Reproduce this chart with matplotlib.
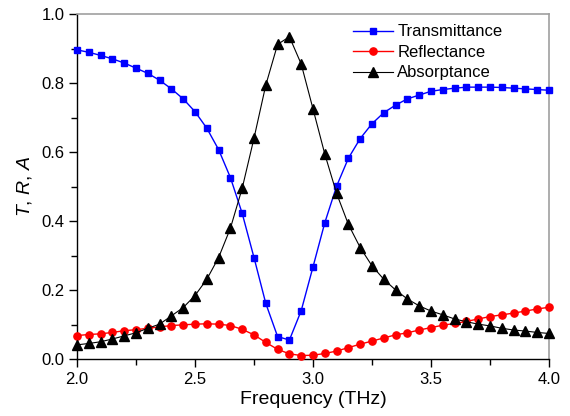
import matplotlib
matplotlib.use("Agg")
import matplotlib.pyplot as plt
import numpy as np

plt.rcParams['font.family'] = ['Liberation Sans', 'DejaVu Sans']
plt.rcParams['mathtext.fontset'] = 'custom'
plt.rcParams['mathtext.rm'] = 'Liberation Sans'
plt.rcParams['mathtext.it'] = 'Liberation Sans:italic'

freq = [2.00, 2.05, 2.10, 2.15, 2.20, 2.25, 2.30, 2.35, 2.40, 2.45,
        2.50, 2.55, 2.60, 2.65, 2.70, 2.75, 2.80, 2.85, 2.90, 2.95,
        3.00, 3.05, 3.10, 3.15, 3.20, 3.25, 3.30, 3.35, 3.40, 3.45,
        3.50, 3.55, 3.60, 3.65, 3.70, 3.75, 3.80, 3.85, 3.90, 3.95, 4.00]

transmittance = [0.896, 0.889, 0.880, 0.870, 0.858, 0.843, 0.828, 0.808, 0.783, 0.754,
                 0.717, 0.669, 0.607, 0.526, 0.422, 0.294, 0.161, 0.065, 0.055, 0.140,
                 0.267, 0.395, 0.501, 0.582, 0.639, 0.682, 0.714, 0.736, 0.754, 0.765,
                 0.776, 0.781, 0.785, 0.788, 0.788, 0.788, 0.787, 0.785, 0.783, 0.781, 0.779]

reflectance = [0.068, 0.071, 0.073, 0.077, 0.082, 0.085, 0.089, 0.093, 0.097, 0.099,
               0.101, 0.102, 0.101, 0.097, 0.086, 0.070, 0.048, 0.028, 0.015, 0.010,
               0.011, 0.016, 0.023, 0.033, 0.043, 0.052, 0.061, 0.070, 0.076, 0.084,
               0.091, 0.098, 0.103, 0.109, 0.116, 0.123, 0.128, 0.133, 0.139, 0.145, 0.150]

absorptance = [0.041, 0.045, 0.050, 0.058, 0.067, 0.076, 0.089, 0.101, 0.125, 0.149,
               0.184, 0.231, 0.294, 0.379, 0.495, 0.640, 0.794, 0.912, 0.934, 0.855,
               0.725, 0.594, 0.480, 0.390, 0.323, 0.270, 0.231, 0.200, 0.174, 0.154,
               0.139, 0.128, 0.116, 0.108, 0.101, 0.096, 0.089, 0.084, 0.081, 0.077, 0.074]

fig = plt.figure(figsize=(5.70, 4.16), dpi=100)
ax = fig.add_axes([77/570, 1-359/416, (549-77)/570, (359-14)/416])

ax.plot(freq, transmittance, color='#0000ff', lw=1.0, marker='s', ms=4.8,
        label='Transmittance', clip_on=False, zorder=3)
ax.plot(freq, reflectance, color='#ff0000', lw=1.0, marker='o', ms=5.2,
        label='Reflectance', clip_on=False, zorder=3)
ax.plot(freq, absorptance, color='black', lw=0.8, marker='^', ms=6.5,
        label='Absorptance', clip_on=False, zorder=3)

ax.set_xlim(2.0, 4.0)
ax.set_ylim(0.0, 1.0)
ax.set_xticks([2.0, 2.5, 3.0, 3.5, 4.0])
ax.set_xticks([2.25, 2.75, 3.25, 3.75], minor=True)
ax.set_yticks([0.0, 0.2, 0.4, 0.6, 0.8, 1.0])
ax.set_yticks([0.1, 0.3, 0.5, 0.7, 0.9], minor=True)
ax.xaxis.set_major_formatter(matplotlib.ticker.FormatStrFormatter('%.1f'))
ax.yaxis.set_major_formatter(matplotlib.ticker.FormatStrFormatter('%.1f'))

ax.tick_params(which='major', direction='out', length=6, width=1, labelsize=12, pad=3)
ax.tick_params(which='minor', direction='out', length=4, width=1)
ax.tick_params(top=False, right=False)

for s in ['left', 'bottom']:
    ax.spines[s].set_color('black')
    ax.spines[s].set_linewidth(1.0)
for s in ['top', 'right']:
    ax.spines[s].set_color('#a0a0a0')
    ax.spines[s].set_linewidth(1.2)

ax.set_xlabel('Frequency (THz)', fontsize=14, labelpad=3)
ax.set_ylabel(r'$T$, $R$, $A$', fontsize=14, labelpad=5)

ax.legend(loc='upper left', frameon=False, fontsize=12, handlelength=2.4,
          handletextpad=0.25, labelspacing=0.33, borderaxespad=0.0,
          borderpad=0.0, bbox_to_anchor=(0.585, 0.97))

fig.savefig('out.png', dpi=100)
